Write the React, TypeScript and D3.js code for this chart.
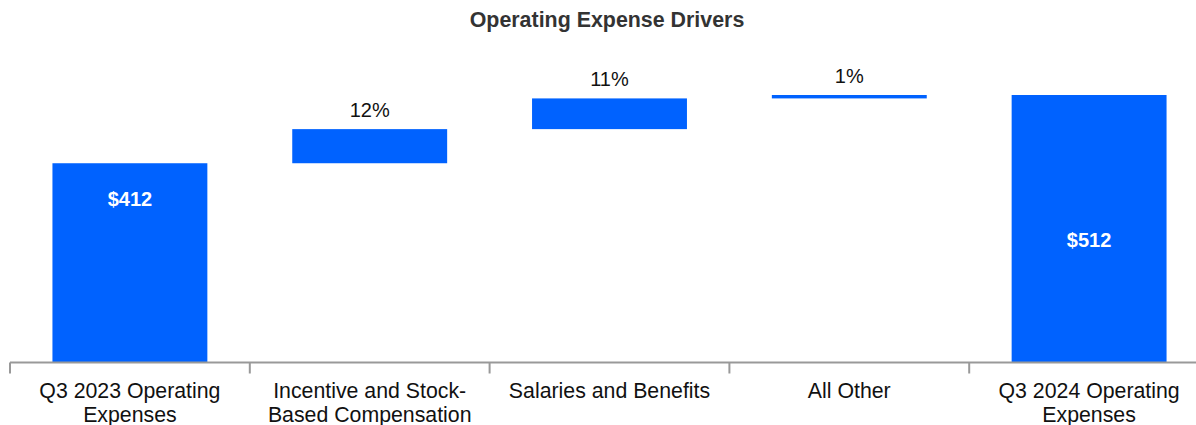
import React, { useEffect, useRef } from "react";
import * as d3 from "d3";

const categories = [
  ["Q3 2023 Operating", "Expenses"],
  ["Incentive and Stock-", "Based Compensation"],
  ["Salaries and Benefits"],
  ["All Other"],
  ["Q3 2024 Operating", "Expenses"],
];
const kinds = ["total", "delta", "delta", "delta", "total"];
const values = [412, 50, 45, 5, 512];
const barLabels = ["$412", "12%", "11%", "1%", "$512"];
const totalLabelValues = [360, 0, 0, 0, 300];
const title = "Operating Expense Drivers";

const W = 1196;
const H = 425;
const BLUE = "#0062ff";
const FONT = "'Liberation Sans', Arial, sans-serif";

export default function App() {
  const ref = useRef<SVGSVGElement>(null);
  useEffect(() => {
    const svg = d3.select(ref.current);
    svg.selectAll("*").remove();

    const keys = categories.map((_, i) => String(i));
    const x = d3
      .scaleBand<string>()
      .domain(keys)
      .range([10, 1209])
      .paddingInner(0.354)
      .paddingOuter(0.177);
    const y = d3.scaleLinear().domain([120, 512]).range([362.5, 95]);

    let running = 0;
    const segs = values.map((v, i) => {
      if (kinds[i] === "total") {
        running = v;
        return { y0: 120, y1: v };
      }
      const s = { y0: running, y1: running + v };
      running += v;
      return s;
    });

    svg
      .append("text")
      .attr("x", 607)
      .attr("y", 27)
      .attr("text-anchor", "middle")
      .attr("font-family", FONT)
      .attr("font-weight", "bold")
      .attr("font-size", 21.4)
      .attr("fill", "#333")
      .text(title);

    svg
      .selectAll("rect.bar")
      .data(segs)
      .enter()
      .append("rect")
      .attr("class", "bar")
      .attr("x", (_, i) => x(keys[i])!)
      .attr("width", x.bandwidth())
      .attr("y", (d) => y(d.y1))
      .attr("height", (d) => y(d.y0) - y(d.y1))
      .attr("fill", BLUE);

    segs.forEach((d, i) => {
      const cx = x(keys[i])! + x.bandwidth() / 2;
      if (kinds[i] === "total") {
        svg
          .append("text")
          .attr("x", cx)
          .attr("y", y(totalLabelValues[i]))
          .attr("dy", "0.35em")
          .attr("text-anchor", "middle")
          .attr("font-family", FONT)
          .attr("font-weight", "bold")
          .attr("font-size", 20)
          .attr("fill", "#fff")
          .text(barLabels[i]);
      } else {
        svg
          .append("text")
          .attr("x", cx)
          .attr("y", y(d.y1) - 12)
          .attr("text-anchor", "middle")
          .attr("font-family", FONT)
          .attr("font-size", 20)
          .attr("fill", "#111")
          .text(barLabels[i]);
      }
    });

    const step = x.step();
    const axisY = y(120);
    svg
      .append("line")
      .attr("x1", 10)
      .attr("x2", 1209)
      .attr("y1", axisY)
      .attr("y2", axisY)
      .attr("stroke", "#999")
      .attr("stroke-width", 2);
    d3.range(6).forEach((i) => {
      const tx = 10 + i * step;
      svg
        .append("line")
        .attr("x1", tx)
        .attr("x2", tx)
        .attr("y1", axisY)
        .attr("y2", axisY + 11)
        .attr("stroke", "#999")
        .attr("stroke-width", 2);
    });

    categories.forEach((lines, i) => {
      const cx = x(keys[i])! + x.bandwidth() / 2;
      const t = svg
        .append("text")
        .attr("text-anchor", "middle")
        .attr("font-family", FONT)
        .attr("font-size", 21.3)
        .attr("fill", "#111");
      lines.forEach((ln, j) => {
        t.append("tspan")
          .attr("x", cx)
          .attr("y", 398 + j * 24)
          .text(ln);
      });
    });
  }, []);

  return (
    <svg
      ref={ref}
      width={W}
      height={H}
      style={{ position: "absolute", left: 0, top: 0, background: "#fff" }}
    />
  );
}
